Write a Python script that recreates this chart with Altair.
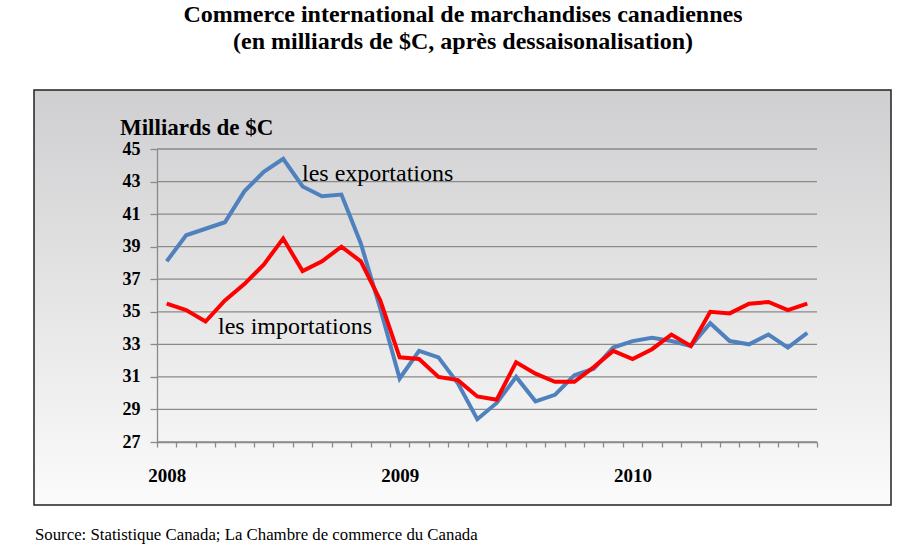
import altair as alt
import pandas as pd

# Monthly data, Jan 2008 - Oct 2010 (billions of C$)
exports = [38.1, 39.7, 40.1, 40.5, 42.4, 43.6, 44.4, 42.7, 42.1, 42.2, 39.2, 35.2,
           30.9, 32.6, 32.2, 30.6, 28.4, 29.4, 31.0, 29.5, 29.9, 31.1, 31.5, 32.8,
           33.2, 33.4, 33.2, 32.9, 34.3, 33.2, 33.0, 33.6, 32.8, 33.7]
imports = [35.5, 35.1, 34.4, 35.7, 36.7, 37.9, 39.5, 37.5, 38.1, 39.0, 38.1, 35.7,
           32.2, 32.1, 31.0, 30.8, 29.8, 29.6, 31.9, 31.2, 30.7, 30.7, 31.6, 32.6,
           32.1, 32.7, 33.6, 32.9, 35.0, 34.9, 35.5, 35.6, 35.1, 35.5]
series_names = ["exportations", "importations"]
series_colors = ["#4f81bd", "#ff0000"]
y_ticks = list(range(27, 46, 2))

rows = []
for name, vals in zip(series_names, [exports, imports]):
    for i, v in enumerate(vals):
        rows.append({"idx": i, "value": v, "serie": name})
df = pd.DataFrame(rows)
grid_df = pd.DataFrame({"tick": y_ticks})

SERIF = "Liberation Serif"
W, H = 660, 293
GRAY = "#8a8a8a"

x_scale = alt.Scale(domain=[-0.5, 33.5], nice=False, zero=False)
y_scale = alt.Scale(domain=[27, 45], nice=False, zero=False)

x_axis = alt.Axis(
    values=[i - 0.5 for i in range(len(exports) + 1)],
    labelExpr="datum.value == -0.5 ? '2008' : datum.value == 11.5 ? '2009' : datum.value == 23.5 ? '2010' : ''",
    labelOffset=9.7, labelFlush=False, labelOverlap=False, labelBound=False,
    labelFont=SERIF, labelFontWeight="bold", labelFontSize=19, labelColor="black",
    labelPadding=19, tickSize=5, tickColor=GRAY, domainColor=GRAY,
    domainWidth=1.3, tickWidth=1.3, grid=False, title=None, zindex=1,
)
y_axis = alt.Axis(
    values=y_ticks, grid=False,
    domainColor=GRAY, domainWidth=1.3, tickColor=GRAY, tickWidth=1.3,
    tickSize=7, labelFont=SERIF, labelFontWeight="bold", labelFontSize=18,
    labelColor="black", labelPadding=10, title=None, zindex=1,
)

one = alt.Data(values=[{}])

frame = alt.Chart(one).mark_rect(
    fill=alt.Gradient(gradient="linear", x1=0, x2=0, y1=0, y2=1,
                      stops=[alt.GradientStop(offset=0, color="#cfcfd1"),
                             alt.GradientStop(offset=1, color="#fbfbfb")]),
    stroke="#222222", strokeWidth=1.5,
).encode(x=alt.value(-123), x2=alt.value(734), y=alt.value(-59), y2=alt.value(356))

grid = alt.Chart(grid_df).mark_rule(color=GRAY, strokeWidth=1.3).encode(
    y=alt.Y("tick:Q", scale=y_scale, axis=y_axis),
    x=alt.value(0), x2=alt.value(W),
)

lines = alt.Chart(df).mark_line(strokeWidth=4, strokeJoin="miter").encode(
    x=alt.X("idx:Q", scale=x_scale, axis=x_axis),
    y=alt.Y("value:Q", scale=y_scale, axis=y_axis),
    color=alt.Color("serie:N", scale=alt.Scale(domain=series_names, range=series_colors), legend=None),
)

def txt(s, x, y, size, weight="normal", align="left", baseline="alphabetic"):
    return alt.Chart(one).mark_text(
        text=s, font=SERIF, fontSize=size, fontWeight=weight, align=align,
        baseline=baseline, color="black",
    ).encode(x=alt.value(x), y=alt.value(y))

texts = [
    txt("Commerce international de marchandises canadiennes", 306, -134, 24, "bold", "center", "middle"),
    txt("(en milliards de $C, après dessaisonalisation)", 306, -107, 24, "bold", "center", "middle"),
    txt("Milliards de $C", -37, -14, 23, "bold"),
    txt("les exportations", 145, 32, 24),
    txt("les importations", 61, 185, 24),
    txt("Source: Statistique Canada; La Chambre de commerce du Canada", -122, 386, 16.8, baseline="middle"),
]

chart = alt.layer(frame, grid, lines, *texts).properties(
    width=W, height=H,
    autosize=alt.AutoSizeParams(type="none"),
    padding={"left": 157, "top": 149, "right": 83, "bottom": 103},
    background="white",
).configure_view(stroke=None)

chart.save("out.html", embed_options={"renderer": "svg", "actions": False})
